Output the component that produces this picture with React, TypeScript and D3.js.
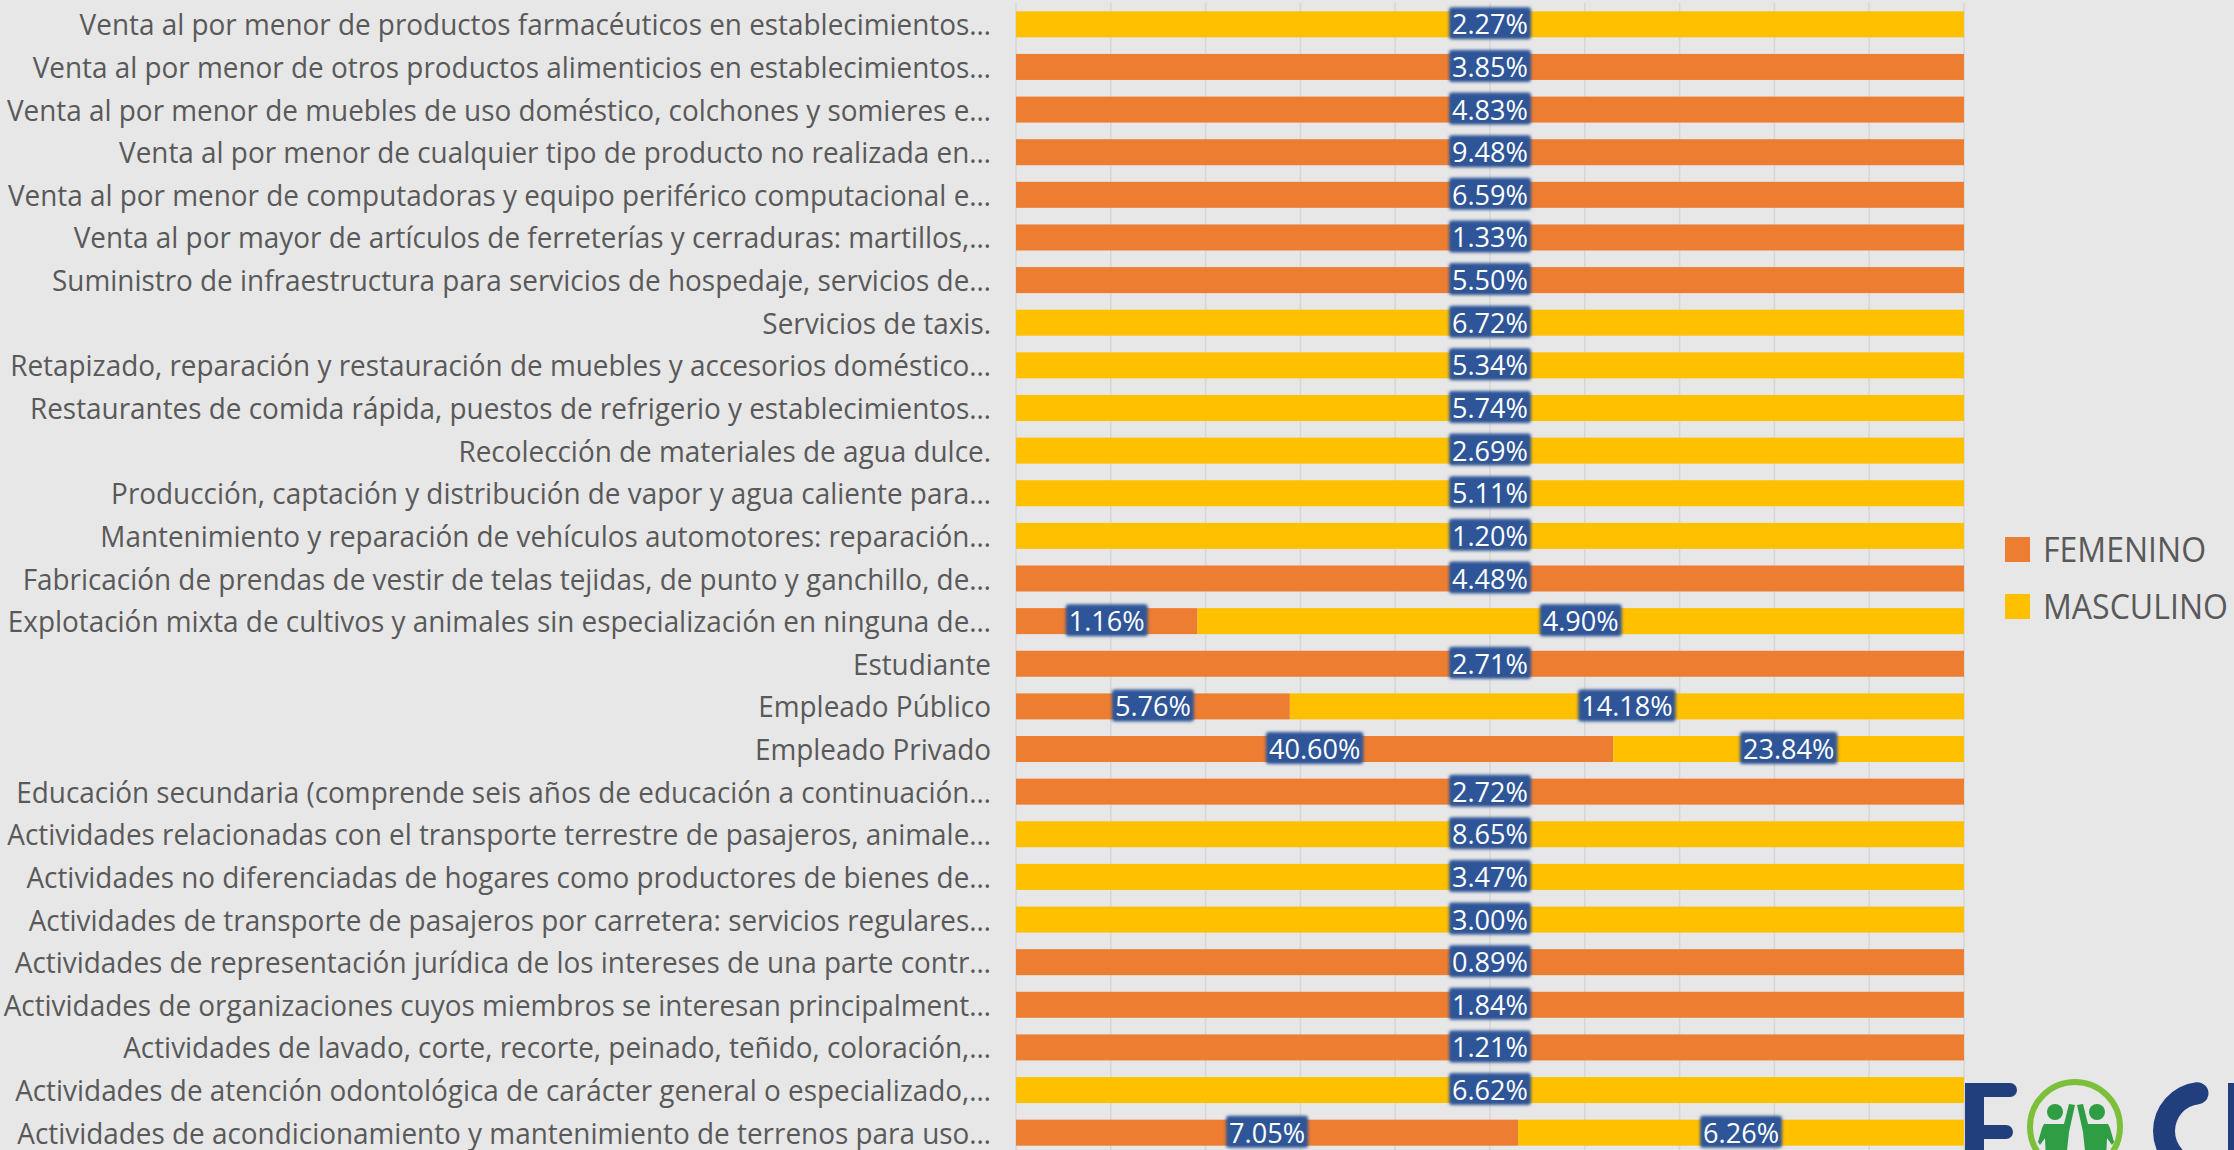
import React, { useEffect, useRef } from "react"
import * as d3 from "d3"

// Categories top to bottom, as they appear in the chart
const categories = [
  "Venta al por menor de productos farmacéuticos en establecimientos…",
  "Venta al por menor de otros productos alimenticios en establecimientos…",
  "Venta al por menor de muebles de uso doméstico, colchones y somieres e…",
  "Venta al por menor de cualquier tipo de producto no realizada en…",
  "Venta al por menor de computadoras y equipo periférico computacional e…",
  "Venta al por mayor de artículos de ferreterías y cerraduras: martillos,…",
  "Suministro de infraestructura para servicios de hospedaje, servicios de…",
  "Servicios de taxis.",
  "Retapizado, reparación y restauración de muebles y accesorios doméstico…",
  "Restaurantes de comida rápida, puestos de refrigerio y establecimientos…",
  "Recolección de materiales de agua dulce.",
  "Producción, captación y distribución de vapor y agua caliente para…",
  "Mantenimiento y reparación de vehículos automotores: reparación…",
  "Fabricación de prendas de vestir de telas tejidas, de punto y ganchillo, de…",
  "Explotación mixta de cultivos y animales sin especialización en ninguna de…",
  "Estudiante",
  "Empleado Público",
  "Empleado Privado",
  "Educación secundaria (comprende seis años de educación a continuación…",
  "Actividades relacionadas con el transporte terrestre de pasajeros, animale…",
  "Actividades no diferenciadas de hogares como productores de bienes de…",
  "Actividades de transporte de pasajeros por carretera: servicios regulares…",
  "Actividades de representación jurídica de los intereses de una parte contr…",
  "Actividades de organizaciones cuyos miembros se interesan principalment…",
  "Actividades de lavado, corte, recorte, peinado, teñido, coloración,…",
  "Actividades de atención odontológica de carácter general o especializado,…",
  "Actividades de acondicionamiento y mantenimiento de terrenos para uso…",
]

// percentages per series (0 = no value)
const femenino = [
  0, 3.85, 4.83, 9.48, 6.59, 1.33, 5.5, 0, 0, 0, 0, 0, 0, 4.48, 1.16, 2.71,
  5.76, 40.6, 2.72, 0, 0, 0, 0.89, 1.84, 1.21, 0, 7.05,
]
const masculino = [
  2.27, 0, 0, 0, 0, 0, 0, 6.72, 5.34, 5.74, 2.69, 5.11, 1.2, 0, 4.9, 0,
  14.18, 23.84, 0, 8.65, 3.47, 3.0, 0, 0, 0, 6.62, 6.26,
]

const seriesNames = ["FEMENINO", "MASCULINO"]
const seriesColors = ["#ED7D31", "#FFC000"]

const FONT = "'Open Sans', 'Noto Sans', sans-serif"

function App() {
  const ref = useRef<SVGSVGElement>(null)

  useEffect(() => {
    const W = 2234
    const H = 1150
    const svg = d3.select(ref.current)
    svg.selectAll("*").remove()

    const rows = categories.map((c, i) => ({ cat: c, fem: femenino[i], masc: masculino[i] }))
    const stacked = d3.stack<any>().keys(["fem", "masc"]).offset(d3.stackOffsetExpand)(rows)

    const x = d3.scaleLinear().domain([0, 1]).range([1016, 1964])
    const y = d3.scaleBand().domain(categories).range([3, 1154]).paddingInner(0.39).paddingOuter(0.195)

    const defs = svg.append("defs")
    defs.append("filter").attr("id", "soft").attr("x", "-20%").attr("y", "-30%").attr("width", "140%").attr("height", "160%")
      .append("feGaussianBlur").attr("stdDeviation", 1.6)

    // background
    svg.append("rect").attr("width", W).attr("height", H).attr("fill", "#E7E7E7")

    // gridlines
    svg.append("g").selectAll("line")
      .data(x.ticks(10))
      .join("line")
      .attr("x1", d => x(d)).attr("x2", d => x(d))
      .attr("y1", 3).attr("y2", 1154)
      .attr("stroke", "#D6D6D6").attr("stroke-width", 1.5)

    // category labels, condensed to mimic Calibri widths
    const catG = svg.append("g")
    const catText = catG.selectAll("text")
      .data(categories)
      .join("text")
      .attr("text-anchor", "end")
      .attr("font-family", FONT)
      .attr("font-size", 29)
      .attr("fill", "#595959")
      .text(d => d)
    let maxW = 0
    catText.each(function () { maxW = Math.max(maxW, (this as SVGTextElement).getComputedTextLength()) })
    const kCat = maxW > 0 ? 988 / maxW : 1
    catText.attr("transform", d => `translate(991,${(y(d) as number) + y.bandwidth() / 2 + 11}) scale(${kCat},1)`)

    // bars
    svg.append("g").selectAll("g")
      .data(stacked)
      .join("g")
      .attr("fill", (_, i) => seriesColors[i])
      .selectAll("rect")
      .data(d => d.filter(s => s[1] - s[0] > 0))
      .join("rect")
      .attr("x", d => x(d[0]))
      .attr("width", d => x(d[1]) - x(d[0]))
      .attr("y", d => y(d.data.cat) as number)
      .attr("height", y.bandwidth())

    // data labels
    const labels: { cx: number; cy: number; text: string }[] = []
    stacked.forEach(s => {
      s.forEach(d => {
        const v = (d.data as any)[s.key] as number
        if (v > 0) {
          labels.push({
            cx: (x(d[0]) + x(d[1])) / 2,
            cy: (y(d.data.cat) as number) + y.bandwidth() / 2,
            text: v.toFixed(2) + "%",
          })
        }
      })
    })
    const lblG = svg.append("g")
    const probe = lblG.append("text").attr("font-family", FONT).attr("font-size", 28).text("2.27%")
    const probeW = (probe.node() as SVGTextElement).getComputedTextLength()
    probe.remove()
    const kLbl = probeW > 0 ? 76 / probeW : 1

    labels.forEach(l => {
      const g = lblG.append("g")
      const t = g.append("text")
        .attr("text-anchor", "middle")
        .attr("font-family", FONT)
        .attr("font-size", 28)
        .attr("fill", "#FFFFFF")
        .text(l.text)
      const w = (t.node() as SVGTextElement).getComputedTextLength() * kLbl
      t.attr("transform", `translate(${l.cx},${l.cy + 10}) scale(${kLbl},1)`)
      g.insert("rect", "text")
        .attr("x", l.cx - w / 2 - 3)
        .attr("y", l.cy - 17)
        .attr("width", w + 6)
        .attr("height", 32)
        .attr("rx", 3)
        .attr("fill", "#2F5597")
        .attr("filter", "url(#soft)")
    })

    // legend
    const leg = svg.append("g")
    const legItems = leg.selectAll("g")
      .data(seriesNames)
      .join("g")
      .attr("transform", (_, i) => `translate(2005,${537 + i * 57})`)
    legItems.append("rect").attr("width", 25).attr("height", 25).attr("fill", (_, i) => seriesColors[i])
    const legText = legItems.append("text")
      .attr("font-family", FONT)
      .attr("font-size", 34)
      .attr("fill", "#595959")
      .text(d => d)
    let mW = 0
    legText.each(function (d) {
      if (d === "MASCULINO") mW = (this as SVGTextElement).getComputedTextLength()
    })
    const kLeg = mW > 0 ? 185 / mW : 1
    legText.attr("transform", `translate(38,25) scale(${kLeg},1)`)

    // logo (partially visible, bottom right)
    const logo = svg.append("g")
    const navy = "#213E7D"
    logo.append("rect").attr("x", 1965).attr("y", 1083).attr("width", 19).attr("height", 80).attr("fill", navy)
    logo.append("rect").attr("x", 1965).attr("y", 1083).attr("width", 52).attr("height", 14).attr("rx", 7).attr("fill", navy)
    logo.append("rect").attr("x", 1965).attr("y", 1125).attr("width", 48).attr("height", 14).attr("rx", 7).attr("fill", navy)
    logo.append("circle").attr("cx", 2075).attr("cy", 1127).attr("r", 45)
      .attr("fill", "none").attr("stroke", "#7CBF3B").attr("stroke-width", 6)
    const green = "#2E9D44"
    logo.append("circle").attr("cx", 2055).attr("cy", 1112).attr("r", 8).attr("fill", green)
    logo.append("circle").attr("cx", 2097).attr("cy", 1112).attr("r", 8).attr("fill", green)
    const fig = d3.line()
    const leftFig: [number, number][] = [
      [2044, 1124], [2064, 1124], [2069, 1104], [2075, 1105], [2069, 1132],
      [2066, 1160], [2046, 1160], [2045, 1138], [2040, 1145], [2038, 1142], [2042, 1128],
    ]
    logo.append("path").attr("d", fig(leftFig) + "Z").attr("fill", green)
    logo.append("path").attr("d", fig(leftFig.map(p => [4152 - p[0], p[1]] as [number, number])) + "Z").attr("fill", green)
    const cArc = d3.arc<any>()
      .innerRadius(27).outerRadius(49).cornerRadius(11)
      .startAngle((170 * Math.PI) / 180).endAngle((370 * Math.PI) / 180)
    logo.append("path").attr("transform", "translate(2202,1131)").attr("d", cArc({}) as string).attr("fill", navy)
    logo.append("rect").attr("x", 2228).attr("y", 1083).attr("width", 12).attr("height", 80).attr("fill", navy)
  }, [])

  return (
    <svg
      ref={ref}
      width={2234}
      height={1150}
      style={{ position: "absolute", left: 0, top: 0, display: "block" }}
    />
  )
}

export default App
